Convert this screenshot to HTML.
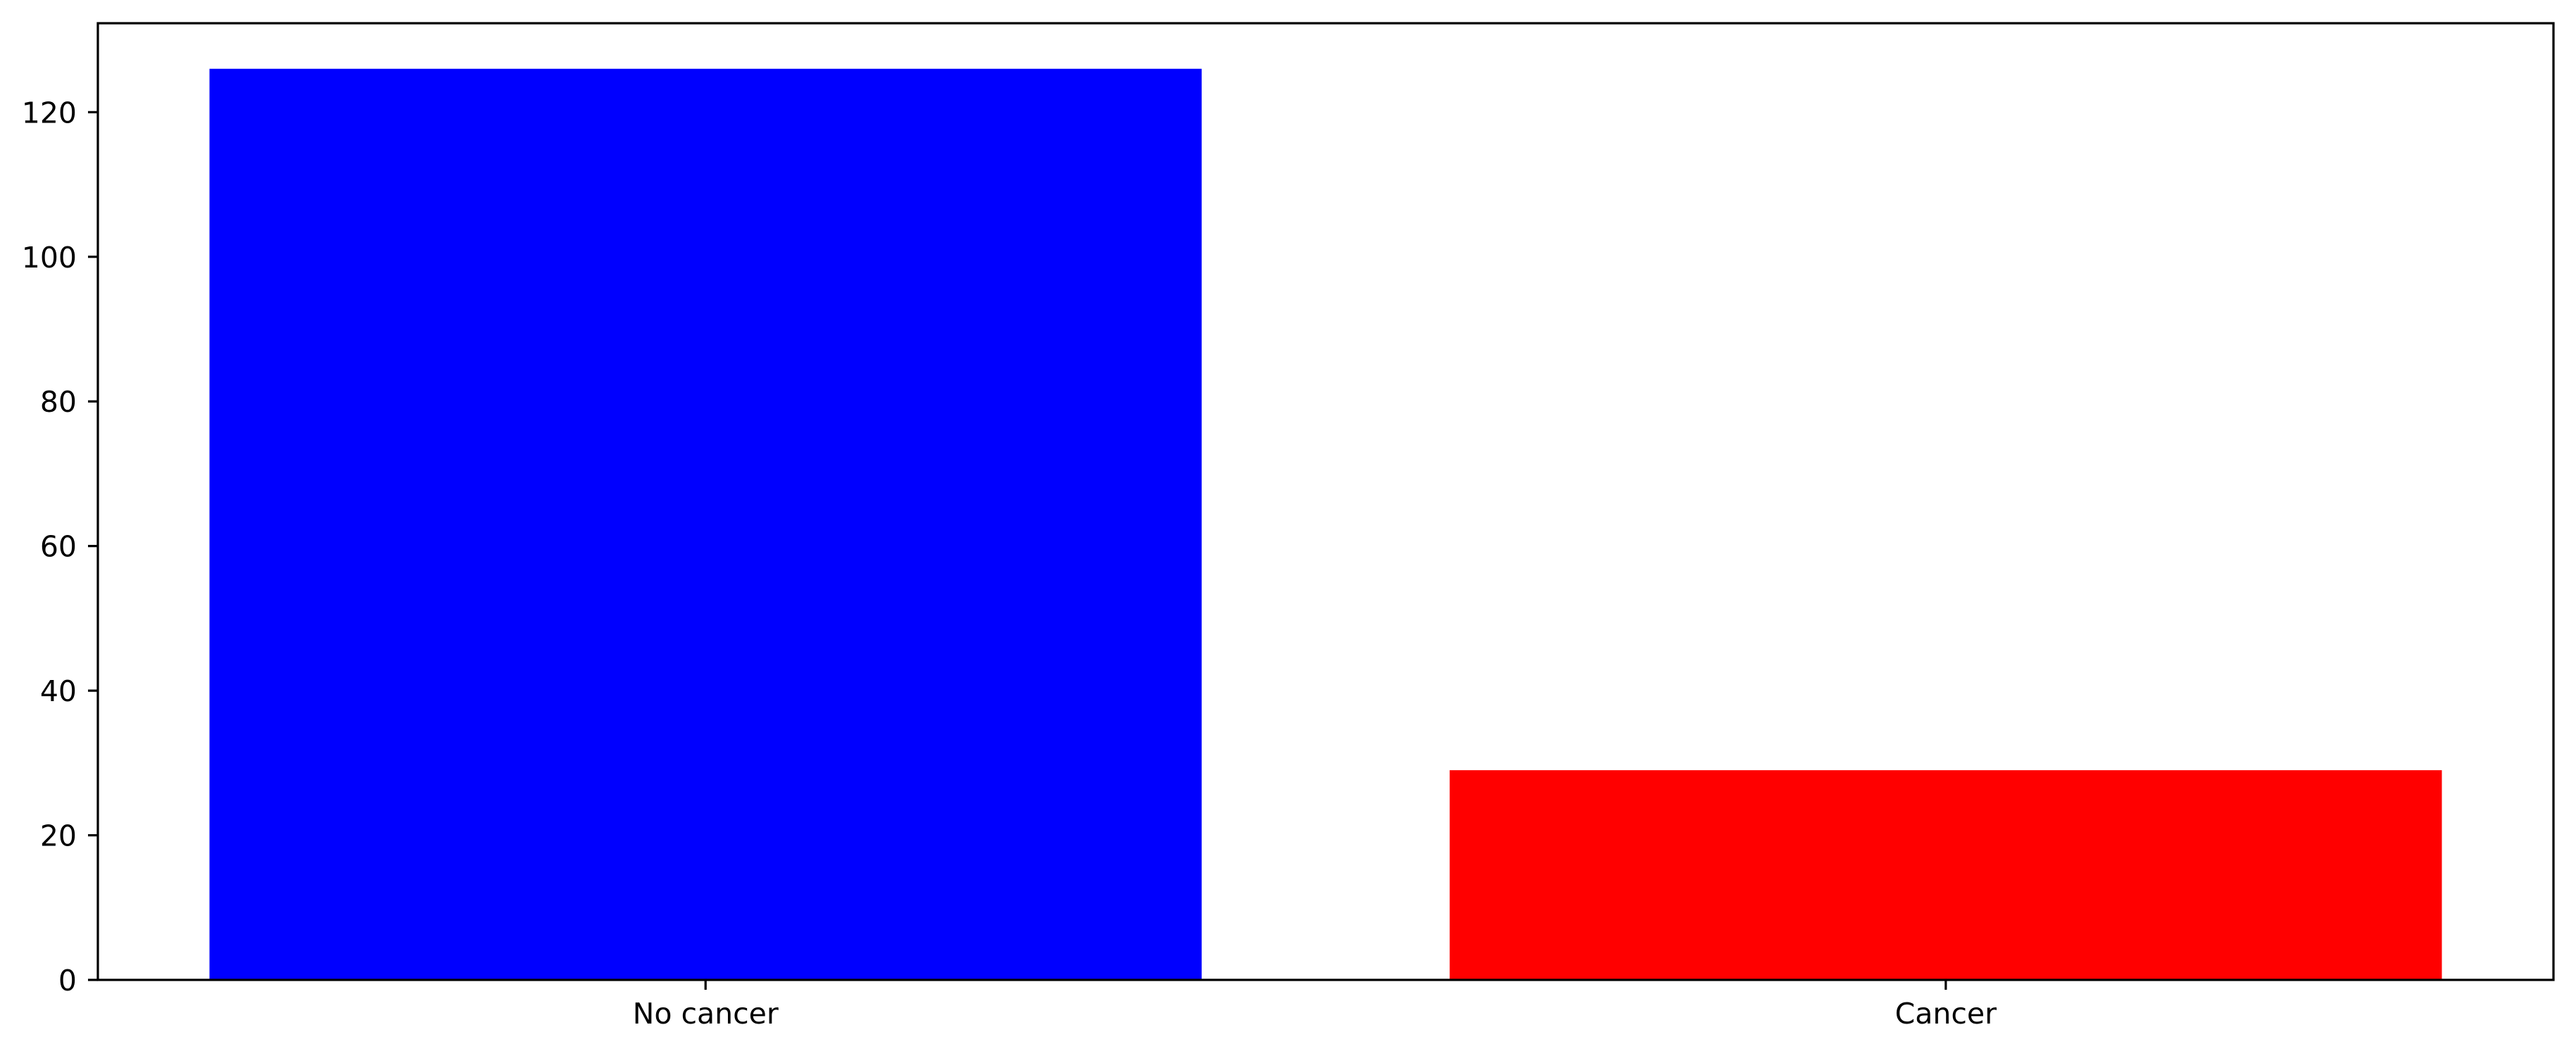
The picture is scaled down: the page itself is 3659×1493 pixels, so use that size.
<!DOCTYPE html>
<html><head><meta charset="utf-8">
<style>
html,body{margin:0;padding:0;background:#fff;}
svg{display:block;}
text{font-family:"DejaVu Sans","Liberation Sans",sans-serif;font-size:41px;fill:#000;}
</style></head>
<body>
<svg id="chart" width="3659" height="1493" viewBox="0 0 3659 1493" xmlns="http://www.w3.org/2000/svg">
<rect width="3659" height="1493" fill="#fff"/>
<g id="bars"></g>
<g id="yticks"></g>
<g id="xticks"></g>
<rect x="139" y="33" width="3488" height="1359" fill="none" stroke="#000" stroke-width="3.2"/>
</svg>
<script>
const categories = ["No cancer", "Cancer"];
const counts = [126, 29];
const barColors = ["#0000ff", "#ff0000"];
const yTicks = [0, 20, 40, 60, 80, 100, 120];

const L = 139, R = 3627, T = 33, B = 1392;
const xMin = -0.49, xMax = 1.49, yMin = 0, yMax = 132.3;
const xs = v => L + (v - xMin) / (xMax - xMin) * (R - L);
const ys = v => B - (v - yMin) / (yMax - yMin) * (B - T);
const NS = "http://www.w3.org/2000/svg";
const barsG = document.getElementById("bars");
const yG = document.getElementById("yticks");
const xG = document.getElementById("xticks");

categories.forEach((c, i) => {
  const r = document.createElementNS(NS, "rect");
  const x0 = xs(i - 0.4), x1 = xs(i + 0.4);
  r.setAttribute("x", x0);
  r.setAttribute("y", ys(counts[i]));
  r.setAttribute("width", x1 - x0);
  r.setAttribute("height", ys(0) - ys(counts[i]));
  r.setAttribute("fill", barColors[i]);
  
  
  barsG.appendChild(r);

  const t = document.createElementNS(NS, "line");
  t.setAttribute("x1", xs(i)); t.setAttribute("x2", xs(i));
  t.setAttribute("y1", B); t.setAttribute("y2", B + 14);
  t.setAttribute("stroke", "#000"); t.setAttribute("stroke-width", "3.2");
  
  
  xG.appendChild(t);

  const lb = document.createElementNS(NS, "text");
  lb.setAttribute("x", xs(i)); lb.setAttribute("y", B + 62);
  lb.setAttribute("text-anchor", "middle");
  lb.textContent = c;
  
  
  xG.appendChild(lb);
});

yTicks.forEach(v => {
  const t = document.createElementNS(NS, "line");
  t.setAttribute("x1", L - 14); t.setAttribute("x2", L);
  t.setAttribute("y1", ys(v)); t.setAttribute("y2", ys(v));
  t.setAttribute("stroke", "#000"); t.setAttribute("stroke-width", "3.2");
  
  
  yG.appendChild(t);

  const lb = document.createElementNS(NS, "text");
  lb.setAttribute("x", L - 30); lb.setAttribute("y", ys(v) + 15);
  lb.setAttribute("text-anchor", "end");
  lb.textContent = v;
  
  
  yG.appendChild(lb);
});
</script>
</body></html>
